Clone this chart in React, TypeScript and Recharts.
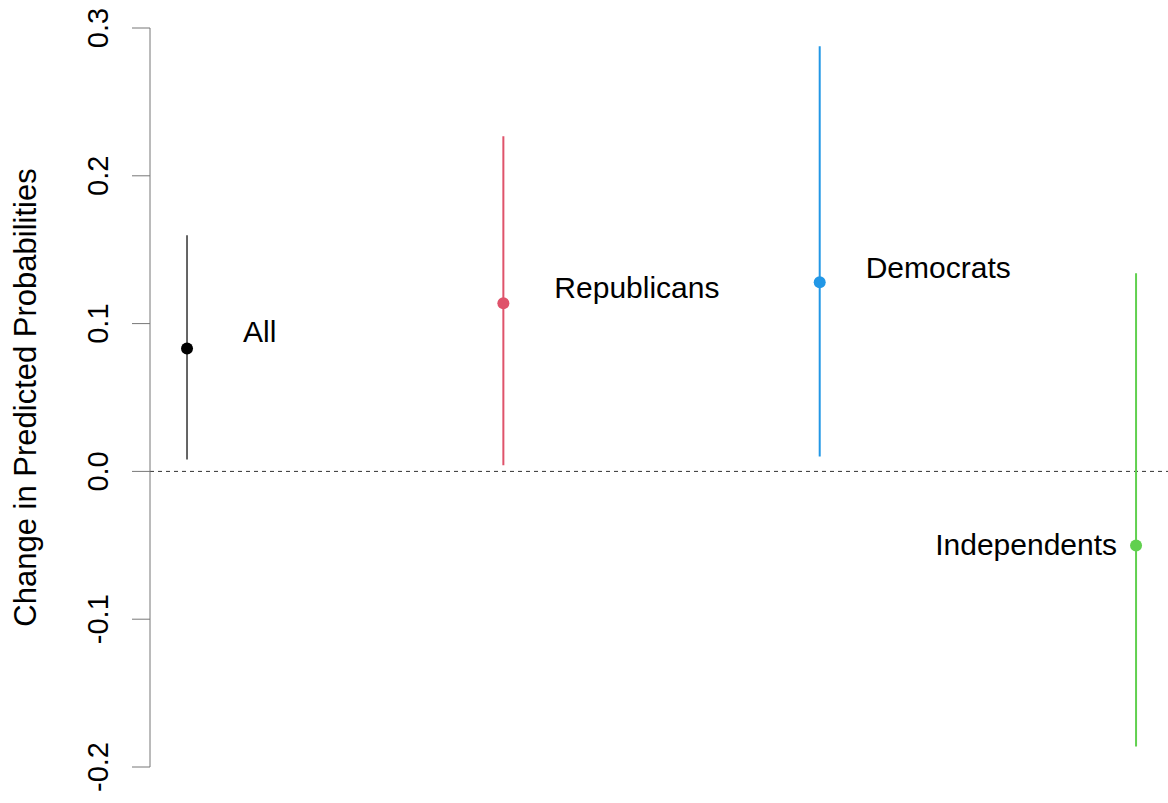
import React from 'react';
import { ScatterChart, Scatter, XAxis, YAxis, ErrorBar, ReferenceLine, Label } from 'recharts';

// group positions on x and the estimates with their intervals
const groups = ['All', 'Republicans', 'Democrats', 'Independents'];
const positions = [1, 2, 3, 4];
const estimates = [0.0832, 0.1137, 0.1279, -0.0501];
const lower = [0.0081, 0.0041, 0.0101, -0.1861];
const upper = [0.1597, 0.2267, 0.2876, 0.134];
const yTicks = [-0.2, -0.1, 0, 0.1, 0.2, 0.3];

const colors = ['#000000', '#DF536B', '#2297E6', '#61D04F'];
// label placement next to each point (px)
const labelStyle = [
    { dx: 56, dy: -17, anchor: 'start' },
    { dx: 51, dy: -16, anchor: 'start' },
    { dx: 46, dy: -15, anchor: 'start' },
    { dx: -19, dy: -1, anchor: 'end' },
];

const FONT = '"Liberation Sans", Arial, sans-serif';

const makeShape = (i: number) => (props: any) => {
    const { cx, cy, payload } = props;
    const ls = labelStyle[i];
    return (
        <g>
            <circle cx={cx} cy={cy} r={6} fill={colors[i]} />
            <text
                x={cx + ls.dx}
                y={cy + ls.dy}
                textAnchor={ls.anchor as any}
                dominantBaseline="central"
                fontSize={30}
                fontFamily={FONT}
                fill="#000"
            >
                {payload.name}
            </text>
        </g>
    );
};

const RotTick = (props: any) => {
    const { x, y, payload } = props;
    const cxText = x - 32;
    return (
        <text
            x={cxText}
            y={y}
            transform={`rotate(-90, ${cxText}, ${y})`}
            textAnchor="middle"
            dominantBaseline="central"
            fontSize={29}
            fontFamily={FONT}
            fill="#000"
        >
            {payload.value.toFixed(1)}
        </text>
    );
};

const YTitle = (props: any) => {
    const { viewBox } = props;
    const x = viewBox.x + 25;
    const y = viewBox.y + viewBox.height / 2;
    return (
        <text
            x={x}
            y={y}
            transform={`rotate(-90, ${x}, ${y})`}
            textAnchor="middle"
            dominantBaseline="central"
            fontSize={31}
            fontFamily={FONT}
            fill="#000"
        >
            Change in Predicted Probabilities
        </text>
    );
};

const App: React.FC = () => {
    const series = groups.map((name, i) => ({
        name,
        data: [{
            name,
            x: positions[i],
            y: estimates[i],
            err: [estimates[i] - lower[i], upper[i] - estimates[i]],
        }],
    }));

    return (
        <div style={{ position: 'absolute', left: 0, top: 0, width: 1168, height: 803, background: '#fff' }}>
            <ScatterChart width={1168} height={803} margin={{ top: 28, right: 0, bottom: 36, left: 0 }}>
                <XAxis type="number" dataKey="x" domain={[0.883, 4.101]} hide allowDataOverflow />
                <YAxis
                    type="number"
                    dataKey="y"
                    domain={[-0.2, 0.3]}
                    ticks={yTicks}
                    width={150}
                    stroke="#777"
                    tickSize={18}
                    tick={<RotTick />}
                    allowDataOverflow
                >
                    <Label content={<YTitle />} />
                </YAxis>
                <ReferenceLine y={0} stroke="#333" strokeDasharray="4 4" strokeWidth={1} />
                {series.map((s, i) => (
                    <Scatter
                        key={s.name}
                        data={s.data}
                        isAnimationActive={false}
                        shape={makeShape(i)}
                    >
                        <ErrorBar
                            dataKey="err"
                            direction="y"
                            width={0}
                            stroke={i === 0 ? '#333' : colors[i]}
                            strokeWidth={i === 0 ? 1.5 : 2}
                            isAnimationActive={false}
                        />
                    </Scatter>
                ))}
            </ScatterChart>
        </div>
    );
};

export default App;
